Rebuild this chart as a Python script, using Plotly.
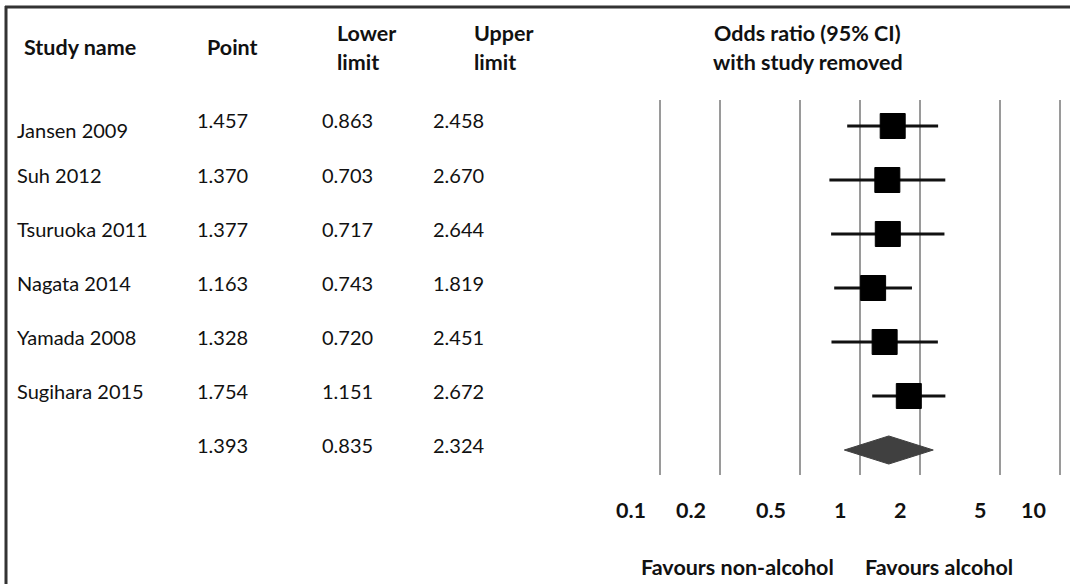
import math
import plotly.graph_objects as go

# Leave-one-out meta-analysis results (odds ratios)
studies = ["Jansen 2009", "Suh 2012", "Tsuruoka 2011", "Nagata 2014", "Yamada 2008", "Sugihara 2015"]
point = [1.457, 1.370, 1.377, 1.163, 1.328, 1.754]
lower = [0.863, 0.703, 0.717, 0.743, 0.720, 1.151]
upper = [2.458, 2.670, 2.644, 1.819, 2.451, 2.672]

# Pooled estimate
pooled_point = 1.393
pooled_lower = 0.835
pooled_upper = 2.324

tick_values = [0.1, 0.2, 0.5, 1, 2, 5, 10]
tick_labels = ["0.1", "0.2", "0.5", "1", "2", "5", "10"]

W, H = 1070, 584
FONT = "Lato"
TXT = "#111111"
BODY = 20
BOLD = 21.5


def px_x(x):
    return x / W


def px_y(y):
    return 1 - y / H


rows = list(range(len(studies)))
pooled_row = len(studies)

fig = go.Figure()

# Confidence interval whiskers
wx, wy = [], []
for i, (lo, hi) in enumerate(zip(lower, upper)):
    wx += [lo, hi, None]
    wy += [i, i, None]
fig.add_trace(go.Scatter(x=wx, y=wy, mode="lines",
                         line=dict(color="#111111", width=3),
                         hoverinfo="skip", showlegend=False))

# Point estimates
fig.add_trace(go.Scatter(x=point, y=rows, mode="markers",
                         marker=dict(symbol="square", size=25, color="#000000",
                                     line=dict(color="#000000", width=1)),
                         showlegend=False))

# Pooled diamond
half_h = 0.26
fig.add_trace(go.Scatter(
    x=[pooled_lower, pooled_point, pooled_upper, pooled_point, pooled_lower],
    y=[pooled_row, pooled_row - half_h, pooled_row, pooled_row + half_h, pooled_row],
    mode="lines", fill="toself", fillcolor="#404040",
    line=dict(color="#404040", width=1), showlegend=False))

annotations = []


def header(text, x, y, anchor="left"):
    annotations.append(dict(text=text, x=px_x(x), y=px_y(y), xref="paper", yref="paper",
                            xanchor=anchor, yanchor="middle", showarrow=False,
                            font=dict(family=FONT, size=BOLD, color=TXT, weight="bold")))


# Column headers
header("Study name", 22, 47)
header("Point", 205, 47)
header("Lower", 335, 33)
header("limit", 335, 62)
header("Upper", 472, 33)
header("limit", 472, 62)
header("Odds ratio (95% CI)", 807, 33, "center")
header("with study removed", 808, 62, "center")

# Table body
label_shift = {0: -4}
for i, name in enumerate(studies):
    annotations.append(dict(text=name, x=px_x(15), y=i, xref="paper", yref="y",
                            xanchor="left", yanchor="middle", showarrow=False,
                            yshift=label_shift.get(i, 5),
                            font=dict(family=FONT, size=BODY, color=TXT)))

col_x = [195, 320, 431]
all_rows = [(i, point[i], lower[i], upper[i]) for i in rows]
all_rows.append((pooled_row, pooled_point, pooled_lower, pooled_upper))
for r, p, lo, hi in all_rows:
    for cx, v in zip(col_x, (p, lo, hi)):
        annotations.append(dict(text=f"{v:.3f}", x=px_x(cx), y=r, xref="paper", yref="y",
                                xanchor="left", yanchor="middle", showarrow=False,
                                yshift=5 if r else 6,
                                font=dict(family=FONT, size=BODY, color=TXT)))

# Axis tick labels, set just left of each grid line (log axis -> log10 positions)
for v, t in zip(tick_values, tick_labels):
    annotations.append(dict(text=t, x=math.log10(v), y=px_y(510), xref="x", yref="paper",
                            xanchor="right", yanchor="middle", xshift=-12, showarrow=False,
                            font=dict(family=FONT, size=BOLD, color=TXT, weight="bold")))

# Direction labels
annotations.append(dict(text="Favours non-alcohol", x=px_x(836), y=px_y(567), xref="paper", yref="paper",
                        xanchor="right", yanchor="middle", showarrow=False,
                        font=dict(family=FONT, size=BOLD, color=TXT, weight="bold")))
annotations.append(dict(text="Favours alcohol", x=px_x(863), y=px_y(567), xref="paper", yref="paper",
                        xanchor="left", yanchor="middle", showarrow=False,
                        font=dict(family=FONT, size=BOLD, color=TXT, weight="bold")))

# Frame lines along the top and left edge
shapes = [
    dict(type="line", xref="paper", yref="paper", x0=px_x(5), x1=1, y0=px_y(7), y1=px_y(7),
         line=dict(color="#333333", width=3)),
    dict(type="line", xref="paper", yref="paper", x0=px_x(6), x1=px_x(6), y0=px_y(6), y1=0,
         line=dict(color="#333333", width=3)),
]

# Log axis: 200 px per decade, 0.1 at x=660
x_left, x_right = 650, 1070
x_lo = -1 - (660 - x_left) / 200
x_hi = -1 + (x_right - 660) / 200
# Rows 54 px apart, first row at y=126, grid spanning y=100..475
y_top, y_bot = 100, 475
row0, step = 126, 54

fig.update_layout(
    width=W, height=H,
    margin=dict(l=0, r=0, t=0, b=0),
    paper_bgcolor="white", plot_bgcolor="white",
    xaxis=dict(type="log", range=[x_lo, x_hi], domain=[x_left / W, x_right / W],
               tickvals=tick_values, showticklabels=False, ticks="",
               showgrid=True, gridcolor="#9a9a9a", gridwidth=2,
               zeroline=False, showline=False, fixedrange=True),
    yaxis=dict(range=[(y_bot - row0) / step, (y_top - row0) / step],
               domain=[1 - y_bot / H, 1 - y_top / H],
               showgrid=False, showticklabels=False, zeroline=False, showline=False,
               ticks="", fixedrange=True),
    annotations=annotations,
    shapes=shapes,
    showlegend=False,
)

fig.write_html("out.html")
